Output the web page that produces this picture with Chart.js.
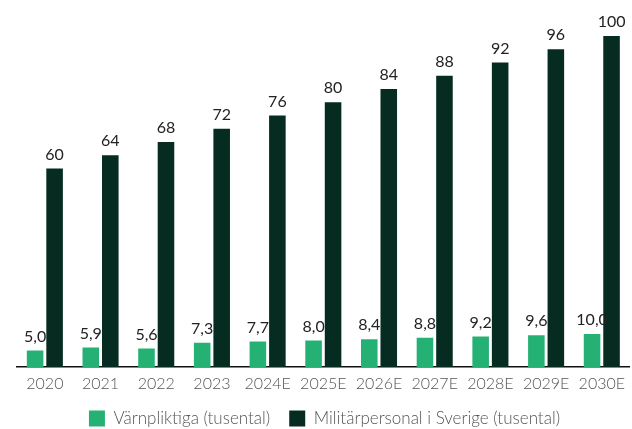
<!DOCTYPE html>
<html>
<head>
<meta charset="utf-8">
<script src="https://cdn.jsdelivr.net/npm/chart.js@4.4.1/dist/chart.umd.min.js"></script>
<style>
  html, body { margin: 0; padding: 0; background: #fff; }
  #wrap { width: 632px; height: 429px; position: relative; }
</style>
</head>
<body>
<div id="wrap"><canvas id="militaryChart"></canvas></div>
<script>
const years = ['2020', '2021', '2022', '2023', '2024E', '2025E', '2026E', '2027E', '2028E', '2029E', '2030E'];
const conscripts = [5.0, 5.9, 5.6, 7.3, 7.7, 8.0, 8.4, 8.8, 9.2, 9.6, 10.0];
const personnel = [60, 64, 68, 72, 76, 80, 84, 88, 92, 96, 100];

const fontFamily = 'Lato, "Open Sans", sans-serif';

// value labels above each bar, swedish decimal comma for the small series
const barLabels = {
    id: 'barLabels',
    afterDatasetsDraw(chart) {
        const c = chart.ctx;
        c.save();
        c.font = '16px ' + fontFamily;
        c.fillStyle = '#222';
        c.textAlign = 'center';
        c.textBaseline = 'bottom';
        chart.data.datasets.forEach((ds, i) => {
            chart.getDatasetMeta(i).data.forEach((bar, j) => {
                const v = ds.data[j];
                const txt = i === 0 ? v.toFixed(1).replace('.', ',') : String(v);
                c.fillText(txt, bar.x, bar.y - 6);
            });
        });
        c.restore();
    }
};

new Chart(document.getElementById('militaryChart'), {
    type: 'bar',
    data: {
        labels: years,
        datasets: [{
            label: 'Värnpliktiga (tusental)',
            data: conscripts,
            backgroundColor: '#26b174',
            categoryPercentage: 0.7,
            barPercentage: 0.85
        }, {
            label: 'Militärpersonal i Sverige (tusental)',
            data: personnel,
            backgroundColor: '#062c22',
            categoryPercentage: 0.7,
            barPercentage: 0.85
        }]
    },
    options: {
        responsive: true,
        maintainAspectRatio: false,
        animation: false,
        layout: {
            padding: { top: 36, left: 17, right: 0, bottom: 0 }
        },
        scales: {
            x: {
                grid: { display: false, drawTicks: false },
                border: { display: true, color: '#111', width: 1.5 },
                ticks: {
                    color: '#555',
                    padding: 7,
                    font: { family: fontFamily, size: 16, weight: 300 }
                },
                afterFit(scale) { scale.height = 24; }
            },
            y: {
                display: false,
                min: 0,
                max: 100
            }
        },
        plugins: {
            tooltip: { enabled: false },
            legend: {
                position: 'bottom',
                maxHeight: 38,
                labels: {
                    boxWidth: 16,
                    boxHeight: 16,
                    padding: 19,
                    color: '#555',
                    font: { family: fontFamily, size: 17, weight: 300 }
                }
            }
        }
    },
    plugins: [barLabels]
});
</script>
</body>
</html>
